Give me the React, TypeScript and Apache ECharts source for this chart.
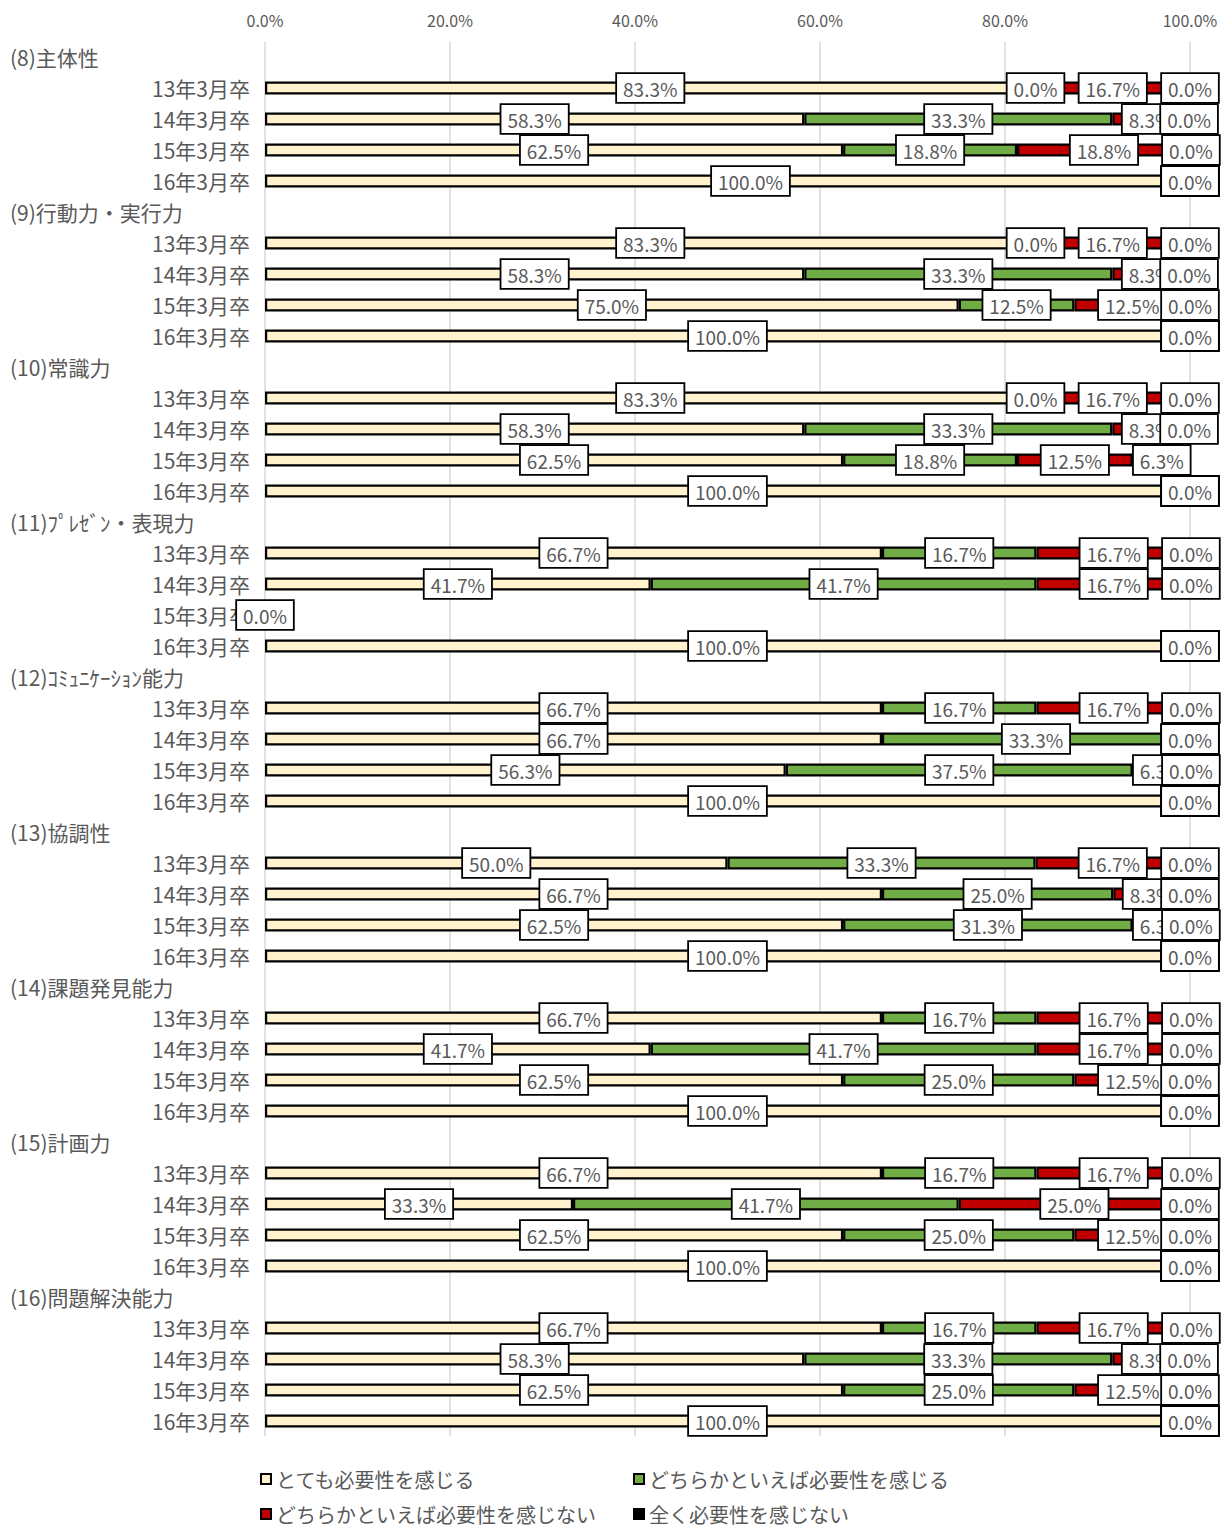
import React, { useEffect, useRef } from "react";
import * as echarts from "echarts";

const groups = [
  "(8)主体性",
  "(9)行動力・実行力",
  "(10)常識力",
  "(11)ﾌﾟﾚｾﾞﾝ・表現力",
  "(12)ｺﾐｭﾆｹｰｼｮﾝ能力",
  "(13)協調性",
  "(14)課題発見能力",
  "(15)計画力",
  "(16)問題解決能力",
];
const years = ["13年3月卒", "14年3月卒", "15年3月卒", "16年3月卒"];
const seriesNames = [
  "とても必要性を感じる",
  "どちらかといえば必要性を感じる",
  "どちらかといえば必要性を感じない",
  "全く必要性を感じない",
];
const xTicks = [0, 20, 40, 60, 80, 100];

// values per group: 13年, 14年, 15年, 16年 (null = no answer)
const veryNeeded = [
  83.3, 58.3, 62.5, 100.0,
  83.3, 58.3, 75.0, 100.0,
  83.3, 58.3, 62.5, 100.0,
  66.7, 41.7, null, 100.0,
  66.7, 66.7, 56.3, 100.0,
  50.0, 66.7, 62.5, 100.0,
  66.7, 41.7, 62.5, 100.0,
  66.7, 33.3, 62.5, 100.0,
  66.7, 58.3, 62.5, 100.0,
];
const somewhatNeeded = [
  0.0, 33.3, 18.8, 0.0,
  0.0, 33.3, 12.5, 0.0,
  0.0, 33.3, 18.8, 0.0,
  16.7, 41.7, null, 0.0,
  16.7, 33.3, 37.5, 0.0,
  33.3, 25.0, 31.3, 0.0,
  16.7, 41.7, 25.0, 0.0,
  16.7, 41.7, 25.0, 0.0,
  16.7, 33.3, 25.0, 0.0,
];
const somewhatNotNeeded = [
  16.7, 8.3, 18.8, 0.0,
  16.7, 8.3, 12.5, 0.0,
  16.7, 8.3, 12.5, 0.0,
  16.7, 16.7, null, 0.0,
  16.7, 0.0, 6.3, 0.0,
  16.7, 8.3, 6.3, 0.0,
  16.7, 16.7, 12.5, 0.0,
  16.7, 25.0, 12.5, 0.0,
  16.7, 8.3, 12.5, 0.0,
];
const notNeeded = [
  0.0, 0.0, 0.0, 0.0,
  0.0, 0.0, 0.0, 0.0,
  0.0, 0.0, 6.3, 0.0,
  0.0, 0.0, 0.0, 0.0,
  0.0, 0.0, 0.0, 0.0,
  0.0, 0.0, 0.0, 0.0,
  0.0, 0.0, 0.0, 0.0,
  0.0, 0.0, 0.0, 0.0,
  0.0, 0.0, 0.0, 0.0,
];

const colors = ["#FFF2CC", "#70AD47", "#C00000", "#000000"];
const FONT = "'Noto Sans CJK JP', 'Noto Sans', sans-serif";
const GRAY = "#595959";

export default function App() {
  const ref = useRef<HTMLDivElement>(null);

  useEffect(() => {
    if (!ref.current) return;
    const chart = echarts.init(ref.current, undefined, { renderer: "svg" });

    const keys: string[] = [];
    const labels: string[] = [];
    const isHeader: boolean[] = [];
    const rowIndex: number[] = []; // -1 for header rows
    groups.forEach((g, gi) => {
      keys.push("h" + gi);
      labels.push(g);
      isHeader.push(true);
      rowIndex.push(-1);
      years.forEach((y, yi) => {
        keys.push("r" + gi + "_" + yi);
        labels.push(y);
        isHeader.push(false);
        rowIndex.push(gi * 4 + yi);
      });
    });

    const raw = [veryNeeded, somewhatNeeded, somewhatNotNeeded, notNeeded];

    const series = raw.map((arr, si) => ({
      name: seriesNames[si],
      type: "bar",
      stack: "total",
      barWidth: 13,
      clip: false,
      itemStyle: { color: colors[si], borderColor: "#000", borderWidth: 2.2 },
      label: {
        show: true,
        position: "inside",
        formatter: (p: any) =>
          p.value == null || p.value === "-" ? "" : Number(p.value).toFixed(1) + "%",
        fontFamily: FONT,
        fontSize: 19,
        color: GRAY,
        backgroundColor: "#fff",
        borderColor: "#000",
        borderWidth: 1.8,
        padding: [5, 6, 4, 6],
      },
      data: rowIndex.map((ri) => {
        if (ri < 0) return "-";
        const v = arr[ri];
        if (v == null) {
          // no answers in this row: only the last series shows 0.0%
          return si === 3 ? 0 : "-";
        }
        // manual label nudge seen in the original for (8) 16年3月卒
        if (si === 0 && ri === 3) {
          return { value: v, label: { offset: [23, 0] } };
        }
        return v;
      }),
    }));

    const legendText = { fontSize: 20, color: GRAY, fontFamily: FONT, lineHeight: 20 };

    chart.setOption({
      animation: false,
      textStyle: { fontFamily: FONT },
      grid: { left: 257, right: 32, top: 33.5, height: 1395, outerBoundsMode: "none" },
      xAxis: {
        type: "value",
        position: "top",
        min: 0,
        max: 100,
        interval: 20,
        axisLine: { show: false },
        axisTick: { show: false },
        splitLine: { lineStyle: { color: "#d9d9d9", width: 1.5 } },
        axisLabel: {
          formatter: (v: number) => (xTicks.includes(v) ? v.toFixed(1) + "%" : ""),
          color: GRAY,
          fontSize: 16,
          margin: 14,
          fontFamily: FONT,
        },
      },
      yAxis: {
        type: "category",
        inverse: true,
        data: keys,
        axisLine: { show: false },
        axisTick: { show: false },
        axisLabel: {
          margin: 15,
          interval: 0,
          fontFamily: FONT,
          formatter: (_v: string, idx: number) =>
            isHeader[idx] ? "{h|" + labels[idx] + "}" : "{y|" + labels[idx] + "}",
          rich: {
            h: { width: 240, align: "left", fontSize: 21, color: GRAY, fontFamily: FONT },
            y: { fontSize: 21, color: GRAY, fontFamily: FONT },
          },
        },
      },
      legend: [
        {
          data: [seriesNames[0], seriesNames[2]],
          orient: "vertical",
          left: 247,
          top: 1456,
          height: 90,
          itemGap: 15,
          itemWidth: 10,
          itemHeight: 10,
          icon: "rect",
          textStyle: legendText,
        },
        {
          data: [seriesNames[1], seriesNames[3]],
          orient: "vertical",
          left: 620,
          top: 1456,
          height: 90,
          itemGap: 15,
          itemWidth: 10,
          itemHeight: 10,
          icon: "rect",
          textStyle: legendText,
        },
      ],
      series,
    });

    return () => chart.dispose();
  }, []);

  return <div ref={ref} style={{ width: 1214, height: 1521 }} />;
}
